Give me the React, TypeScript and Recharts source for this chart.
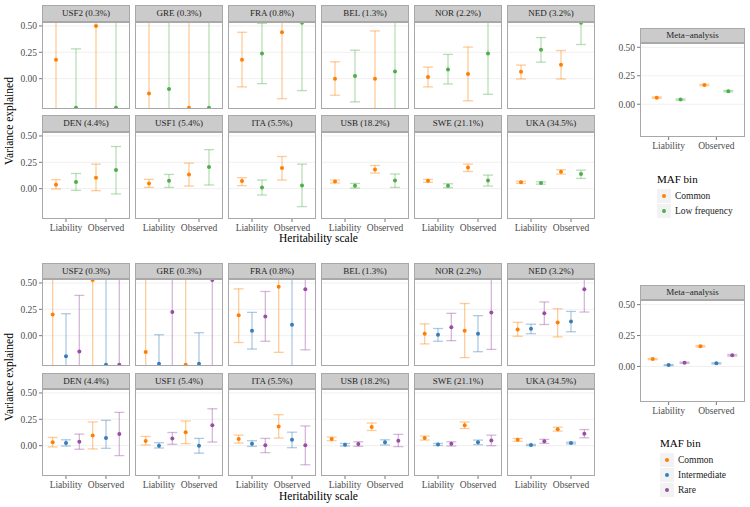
import React from 'react';
import { ScatterChart, Scatter, XAxis, YAxis, ErrorBar, ReferenceLine } from 'recharts';

// ---------- categories & ticks ----------
const scales = ['Liability', 'Observed'];
const cohorts = [
  'USF2 (0.3%)', 'GRE (0.3%)', 'FRA (0.8%)', 'BEL (1.3%)', 'NOR (2.2%)', 'NED (3.2%)',
  'DEN (4.4%)', 'USF1 (5.4%)', 'ITA (5.5%)', 'USB (18.2%)', 'SWE (21.1%)', 'UKA (34.5%)',
];
const metaLabel = 'Meta\u2212analysis';
const yTicks = [0, 0.25, 0.5];
const xTicks = [1, 2];
const topBins = ['Common', 'Low frequency'];
const bottomBins = ['Common', 'Intermediate', 'Rare'];
const binColors: Record<string, string> = {
  Common: '#FF7F00',
  'Low frequency': '#4DAF4A',
  Intermediate: '#377EB8',
  Rare: '#984EA3',
};

// ---------- values: [liabEst, liabLo, liabHi, obsEst, obsLo, obsHi] per cohort ----------
const topCommon: (number[] | null)[] = [
  [0.18, -0.8, 0.9, 0.5, -0.8, 0.9],
  [-0.14, -0.8, 0.9, -0.275, -0.8, 0.9],
  [0.18, -0.078, 0.44, 0.44, -0.19, 0.9],
  [0.0, -0.157, 0.16, 0.0, -0.8, 0.453],
  [0.016, -0.078, 0.11, 0.044, -0.21, 0.3],
  [0.066, -0.003, 0.129, 0.132, -0.003, 0.267],
  [0.038, -0.003, 0.085, 0.104, -0.019, 0.233],
  [0.05, 0.012, 0.088, 0.135, 0.025, 0.242],
  [0.072, 0.028, 0.104, 0.195, 0.082, 0.305],
  [0.069, 0.054, 0.082, 0.182, 0.148, 0.22],
  [0.075, 0.06, 0.088, 0.201, 0.163, 0.233],
  [0.06, 0.05, 0.07, 0.16, 0.139, 0.18],
];
const topLowFreq: (number[] | null)[] = [
  [-0.275, -0.8, 0.283, -0.275, -0.8, 0.9],
  [-0.097, -0.8, 0.9, -0.275, -0.8, 0.9],
  [0.239, -0.047, 0.525, 0.53, -0.113, 0.9],
  [0.025, -0.22, 0.27, 0.069, -0.8, 0.9],
  [0.088, -0.05, 0.23, 0.239, -0.148, 0.9],
  [0.274, 0.157, 0.39, 0.531, 0.324, 0.9],
  [0.063, -0.016, 0.144, 0.176, -0.05, 0.4],
  [0.075, 0.012, 0.135, 0.205, 0.035, 0.37],
  [0.012, -0.06, 0.082, 0.031, -0.17, 0.233],
  [0.028, 0.006, 0.05, 0.078, 0.012, 0.139],
  [0.028, 0.009, 0.047, 0.078, 0.025, 0.129],
  [0.054, 0.043, 0.065, 0.139, 0.097, 0.176],
];
const bottomCommon: (number[] | null)[] = [
  [0.202, -0.8, 0.9, 0.528, -0.8, 0.9],
  [-0.155, -0.8, 0.9, -0.275, -0.8, 0.9],
  [0.193, -0.065, 0.444, 0.463, -0.158, 0.9],
  null,
  [0.019, -0.078, 0.112, 0.047, -0.208, 0.305],
  [0.059, -0.006, 0.127, 0.124, -0.012, 0.255],
  [0.032, -0.012, 0.078, 0.097, -0.031, 0.225],
  [0.044, 0.007, 0.088, 0.128, 0.019, 0.234],
  [0.063, 0.025, 0.1, 0.182, 0.072, 0.294],
  [0.063, 0.047, 0.081, 0.178, 0.144, 0.215],
  [0.072, 0.053, 0.091, 0.194, 0.163, 0.225],
  [0.056, 0.041, 0.069, 0.156, 0.138, 0.175],
];
const bottomIntermediate: (number[] | null)[] = [
  [-0.196, -0.8, 0.208, -0.275, -0.8, 0.9],
  [-0.267, -0.8, 0.009, -0.267, -0.8, 0.028],
  [0.047, -0.127, 0.221, 0.103, -0.8, 0.9],
  null,
  [0.009, -0.053, 0.068, 0.019, -0.152, 0.19],
  [0.065, 0.019, 0.109, 0.134, 0.037, 0.23],
  [0.025, -0.003, 0.056, 0.072, -0.025, 0.24],
  [0.0, -0.022, 0.028, 0.0, -0.071, 0.069],
  [0.019, -0.006, 0.047, 0.056, -0.019, 0.128],
  [0.009, -0.003, 0.021, 0.032, 0.007, 0.056],
  [0.012, 0.002, 0.022, 0.032, 0.009, 0.053],
  [0.006, 0.0, 0.012, 0.025, 0.017, 0.033],
];
const bottomRare: (number[] | null)[] = [
  [-0.149, -0.8, 0.382, -0.275, -0.8, 0.9],
  [0.224, -0.8, 0.9, 0.528, -0.8, 0.9],
  [0.183, -0.053, 0.419, 0.441, -0.134, 0.9],
  null,
  [0.081, -0.047, 0.212, 0.221, -0.13, 0.9],
  [0.212, 0.106, 0.32, 0.441, 0.224, 0.9],
  [0.037, -0.034, 0.11, 0.11, -0.094, 0.316],
  [0.069, 0.013, 0.125, 0.194, 0.035, 0.35],
  [0.003, -0.066, 0.069, 0.003, -0.181, 0.187],
  [0.016, -0.006, 0.037, 0.047, -0.009, 0.107],
  [0.019, -0.003, 0.037, 0.05, 0.0, 0.1],
  [0.041, 0.022, 0.06, 0.112, 0.075, 0.153],
];
const metaTopCommon = [0.058, 0.052, 0.064, 0.168, 0.162, 0.174];
const metaTopLowFreq = [0.041, 0.036, 0.046, 0.115, 0.109, 0.121];
const metaBottomCommon = [0.06, 0.055, 0.065, 0.163, 0.157, 0.169];
const metaBottomIntermediate = [0.011, 0.007, 0.015, 0.025, 0.02, 0.03];
const metaBottomRare = [0.03, 0.025, 0.035, 0.09, 0.084, 0.096];

// ---------- helpers ----------
const FONT = '"Liberation Serif", "DejaVu Serif", serif';
const yDomain: [number, number] = [-0.2875, 0.5375];
const xDomain: [number, number] = [0.4, 2.6];

type Pt = { x: number; y: number; err: [number, number] };

function buildPoints(row: number[] | null, binIdx: number, nBins: number): Pt[] {
  if (!row) return [];
  const offset = (binIdx - (nBins - 1) / 2) / nBins;
  return [0, 1].map((s) => {
    const est = row[s * 3];
    const lo = row[s * 3 + 1];
    const hi = row[s * 3 + 2];
    return { x: s + 1 + offset, y: est, err: [est - lo, hi - est] as [number, number] };
  });
}

type SeriesDef = { name: string; color: string; points: Pt[] };

type PanelProps = {
  left: number;
  stripTop: number;
  w: number;
  stripH: number;
  panelH: number;
  label: string;
  showX: boolean;
  showY: boolean;
  series: SeriesDef[];
};

const tickStyle = { fontSize: 9.5, fill: '#4d4d4d', fontFamily: FONT, fontWeight: 400 };

function Panel({ left, stripTop, w, stripH, panelH, label, showX, showY, series }: PanelProps) {
  const yAxisW = showY ? 42 : 0;
  const xAxisH = showX ? 18 : 0;
  return (
    <>
      <div
        style={{
          position: 'absolute',
          left,
          top: stripTop,
          width: w,
          height: stripH,
          background: '#cbcbcb',
          border: '1px solid #a8a8a8',
          boxSizing: 'border-box',
          fontSize: 9,
          fontFamily: FONT,
          fontWeight: 400,
          color: '#262626',
          textAlign: 'center',
          lineHeight: `${stripH - 2}px`,
          whiteSpace: 'nowrap',
        }}
      >
        {label}
      </div>
      <div style={{ position: 'absolute', left: left - yAxisW, top: stripTop + stripH }}>
        <ScatterChart width={w + yAxisW} height={panelH + xAxisH} margin={{ top: 0, right: 0, bottom: 0, left: 0 }}>
          <XAxis
            type="number"
            dataKey="x"
            domain={xDomain}
            ticks={xTicks}
            interval={0}
            allowDataOverflow
            hide={!showX}
            height={xAxisH}
            axisLine={false}
            tickSize={3}
            tickLine={{ stroke: '#555', strokeWidth: 0.8 }}
            tick={tickStyle}
            tickFormatter={(v: number) => scales[v - 1] ?? ''}
          />
          <YAxis
            type="number"
            dataKey="y"
            domain={yDomain}
            ticks={yTicks}
            interval={0}
            allowDataOverflow
            hide={!showY}
            width={yAxisW}
            axisLine={false}
            tickSize={3}
            tickLine={{ stroke: '#555', strokeWidth: 0.8 }}
            tick={tickStyle}
            tickFormatter={(v: number) => v.toFixed(2)}
          />
          {yTicks.map((t) => (
            <ReferenceLine key={t} y={t} stroke="#ececec" strokeWidth={0.8} />
          ))}
          {series.map((s) => (
            <Scatter
              key={s.name}
              name={s.name}
              data={s.points}
              fill={s.color}
              isAnimationActive={false}
              shape={(p: any) => <circle cx={p.cx} cy={p.cy} r={2} fill={s.color} />}
            >
              <ErrorBar dataKey="err" direction="y" width={5} stroke={s.color} strokeOpacity={0.4} strokeWidth={1.3} />
            </Scatter>
          ))}
        </ScatterChart>
        <div
          style={{
            position: 'absolute',
            left: yAxisW,
            top: 0,
            width: w,
            height: panelH,
            border: '1px solid #a8a8a8',
            boxSizing: 'border-box',
            pointerEvents: 'none',
          }}
        />
      </div>
    </>
  );
}

type BlockProps = {
  bins: string[];
  tables: (number[] | null)[][];
  metaRows: number[][];
  row1Top: number;
  row2Top: number;
  stripH: number;
  panelH: number;
  metaStripTop: number;
  metaPanelH: number;
  yTitleCenter: number;
  xTitleTop: number;
  legendTop: number;
  legendLeft: number;
};

function Block(b: BlockProps) {
  const n = b.bins.length;
  return (
    <>
      {cohorts.map((c, i) => {
        const col = i % 6;
        const row = Math.floor(i / 6);
        return (
          <Panel
            key={c}
            left={42 + 93 * col}
            stripTop={row === 0 ? b.row1Top : b.row2Top}
            w={88}
            stripH={b.stripH}
            panelH={b.panelH}
            label={c}
            showX={row === 1}
            showY={col === 0}
            series={b.bins.map((bin, k) => ({
              name: bin,
              color: binColors[bin],
              points: buildPoints(b.tables[k][i], k, n),
            }))}
          />
        );
      })}
      <Panel
        left={640}
        stripTop={b.metaStripTop}
        w={105}
        stripH={15}
        panelH={b.metaPanelH}
        label={metaLabel}
        showX
        showY
        series={b.bins.map((bin, k) => ({
          name: bin,
          color: binColors[bin],
          points: buildPoints(b.metaRows[k], k, n),
        }))}
      />
      <div
        style={{
          position: 'absolute',
          left: 9 - 60,
          top: b.yTitleCenter - 8,
          width: 120,
          height: 16,
          lineHeight: '16px',
          textAlign: 'center',
          fontSize: 11.5,
          fontFamily: FONT,
          transform: 'rotate(-90deg)',
          color: '#000',
          whiteSpace: 'nowrap',
        }}
      >
        Variance explained
      </div>
      <div
        style={{
          position: 'absolute',
          left: 42,
          width: 553,
          top: b.xTitleTop,
          textAlign: 'center',
          fontSize: 11.5,
          fontFamily: FONT,
          lineHeight: '14px',
          color: '#000',
        }}
      >
        Heritability scale
      </div>
      <div style={{ position: 'absolute', left: b.legendLeft, top: b.legendTop, fontFamily: FONT }}>
        <div style={{ fontSize: 11, lineHeight: '14px', marginBottom: 2, fontWeight: 400 }}>MAF bin</div>
        {b.bins.map((bin) => (
          <div key={bin} style={{ display: 'flex', alignItems: 'center', height: 15 }}>
            <div
              style={{
                width: 14,
                height: 14,
                background: '#f2f2f2',
                display: 'flex',
                alignItems: 'center',
                justifyContent: 'center',
                marginRight: 4,
              }}
            >
              <div style={{ width: 4, height: 4, borderRadius: 2, background: binColors[bin] }} />
            </div>
            <span style={{ fontSize: 9.5, color: '#1a1a1a', fontWeight: 400 }}>{bin}</span>
          </div>
        ))}
      </div>
    </>
  );
}

export default function App() {
  return (
    <div
      style={{
        position: 'absolute',
        left: 0,
        top: 0,
        width: 750,
        height: 507,
        background: '#fff',
        fontFamily: FONT,
        overflow: 'hidden',
      }}
    >
      <Block
        bins={topBins}
        tables={[topCommon, topLowFreq]}
        metaRows={[metaTopCommon, metaTopLowFreq]}
        row1Top={5}
        row2Top={115}
        stripH={17}
        panelH={87}
        metaStripTop={28}
        metaPanelH={94}
        yTitleCenter={121}
        xTitleTop={231}
        legendTop={172}
        legendLeft={657}
      />
      <Block
        bins={bottomBins}
        tables={[bottomCommon, bottomIntermediate, bottomRare]}
        metaRows={[metaBottomCommon, metaBottomIntermediate, metaBottomRare]}
        row1Top={263}
        row2Top={373}
        stripH={16}
        panelH={87}
        metaStripTop={285}
        metaPanelH={102}
        yTitleCenter={377}
        xTitleTop={489}
        legendTop={436}
        legendLeft={660}
      />
    </div>
  );
}
